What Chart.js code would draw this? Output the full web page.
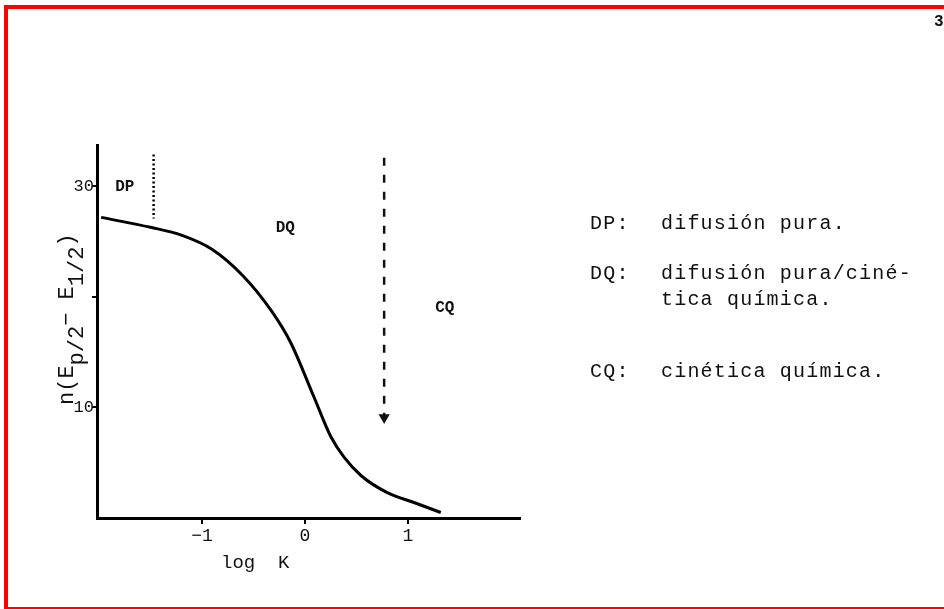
<!DOCTYPE html>
<html>
<head>
<meta charset="utf-8">
<script src="https://cdn.jsdelivr.net/npm/chart.js@4"></script>
<style>
  html, body { margin: 0; padding: 0; background: #fff; }
  body { width: 944px; height: 609px; overflow: hidden; position: relative; }
  #frame { position: absolute; left: 4px; top: 5px; width: 980px; height: 598px; border: 4px solid #f00; box-sizing: content-box; pointer-events: none; }
  #wrap { position: absolute; left: 0; top: 0; width: 944px; height: 609px; }
</style>
</head>
<body>
<div id="wrap"><canvas id="myChart" width="944" height="609"></canvas></div>
<div id="frame"></div>
<script>
// curve: log K vs n(Ep/2 - E1/2)
const logK = [-1.98, -1.5, -1.2, -0.9, -0.6, -0.33, -0.14, 0.09, 0.25, 0.38, 0.55, 0.8, 1.06, 1.32];
const nE = [27.2, 26.3, 25.6, 24.3, 21.9, 18.8, 15.9, 10.9, 7.4, 5.5, 3.8, 2.3, 1.4, 0.5];

// region boundaries (dotted DP|DQ, dashed DQ|CQ with arrow)
const dpLineX = [-1.47, -1.47];
const dpLineY = [32.9, 27.1];
const cqLineX = [0.77, 0.77];
const cqLineY = [32.6, 9.1];

const xTicks = [-1, 0, 1];
const yTicks = [10, 20, 30];
const yTickLabels = ["10", "", "30"];

const regionNames = ["DP", "DQ", "CQ"];
const regionX = [-1.75, -0.19, 1.36];
const regionY = [29.95, 26.2, 19.0];

const legendKeys = ["DP:", "DQ:", "", "CQ:"];
const legendTexts = ["difusión pura.", "difusión pura/ciné-", "tica química.", "cinética química."];

const FONT = '"Liberation Mono", "DejaVu Sans Mono", monospace';

function toPoints(xs, ys) {
	let pts = [];
	for (let i = 0; i < xs.length; i++) {
		pts.push({ x: xs[i], y: ys[i] });
	}
	return pts;
}

const textPlugin = {
	id: "texts",
	afterDraw(chart) {
		const ctx = chart.ctx;
		const xs = chart.scales.x;
		const ys = chart.scales.y;
		ctx.save();
		ctx.fillStyle = "#111";

		// region labels inside the plot
		ctx.font = "bold 16px " + FONT;
		ctx.textAlign = "center";
		ctx.textBaseline = "middle";
		for (let i = 0; i < regionNames.length; i++) {
			ctx.fillText(regionNames[i], xs.getPixelForValue(regionX[i]), ys.getPixelForValue(regionY[i]));
		}

		// legend on the right
		ctx.font = "20px " + FONT;
		ctx.letterSpacing = "1.2px";
		ctx.textAlign = "left";
		ctx.textBaseline = "alphabetic";
		const rows = [229, 279, 305, 377];
		for (let i = 0; i < legendTexts.length; i++) {
			if (legendKeys[i]) ctx.fillText(legendKeys[i], 590, rows[i]);
			ctx.fillText(legendTexts[i], 661, rows[i]);
		}
		ctx.letterSpacing = "0px";

		// x title
		ctx.font = "19px " + FONT;
		ctx.textBaseline = "middle";
		ctx.fillText("log  K", 221, 563);

		// y title, rotated, with subscripts
		ctx.translate(73, 405);
		ctx.rotate(-Math.PI / 2);
		ctx.textBaseline = "alphabetic";
		let pos = 0;
		const parts = [["n(E", 0], ["p/2", 10], ["\u2212 E", 0], ["1/2", 10], [")", 0]];
		ctx.font = "22px " + FONT;
		for (const [t, shift] of parts) {
			ctx.fillText(t, pos, shift);
			pos += ctx.measureText(t).width;
		}
		ctx.restore();

		// page number at the corner
		ctx.save();
		ctx.font = "bold 16px " + FONT;
		ctx.fillStyle = "#111";
		ctx.fillText("3", 934, 26);
		ctx.restore();
	}
};

const data = {
	datasets: [{
		data: toPoints(logK, nE),
		showLine: true,
		borderColor: "#000",
		borderWidth: 3,
		pointRadius: 0,
		cubicInterpolationMode: "monotone"
	}, {
		data: toPoints(dpLineX, dpLineY),
		showLine: true,
		borderColor: "#000",
		borderWidth: 2.5,
		borderDash: [2, 2.5],
		pointRadius: 0
	}, {
		data: toPoints(cqLineX, cqLineY),
		showLine: true,
		borderColor: "#111",
		borderWidth: 2.5,
		borderDash: [8, 9],
		pointRadius: [0, 4],
		pointStyle: "triangle",
		rotation: 180,
		pointBackgroundColor: "#111",
		pointBorderColor: "#111"
	}]
};

const config = {
	type: "scatter",
	data: data,
	options: {
		responsive: false,
		animation: false,
		layout: { padding: { left: 0, top: 145, right: 424, bottom: 0 } },
		plugins: { legend: { display: false }, tooltip: { enabled: false } },
		scales: {
			x: {
				type: "linear",
				min: -2.02,
				max: 2.09,
				afterFit: s => { s.height = 91; },
				afterBuildTicks: s => { s.ticks = xTicks.map(v => ({ value: v })); },
				border: { display: true, color: "#000", width: 3 },
				grid: { drawOnChartArea: false, drawTicks: true, tickLength: 6, color: "#000", lineWidth: 2 },
				ticks: { color: "#111", padding: 1, font: { family: FONT, size: 18 }, callback: v => String(v).replace("-", "\u2212") }
			},
			y: {
				type: "linear",
				min: 0,
				max: 33.75,
				afterFit: s => { s.width = 97; },
				afterBuildTicks: s => { s.ticks = yTicks.map(v => ({ value: v })); },
				border: { display: true, color: "#000", width: 3 },
				grid: { drawOnChartArea: false, drawTicks: true, tickLength: 5, color: "#000", lineWidth: 2 },
				ticks: {
					color: "#111", padding: -2, font: { family: FONT, size: 17 },
					callback: v => yTickLabels[yTicks.indexOf(v)]
				}
			}
		}
	},
	plugins: [textPlugin]
};

let ctx = document.getElementById("myChart").getContext("2d");
new Chart(ctx, config);
</script>
</body>
</html>
